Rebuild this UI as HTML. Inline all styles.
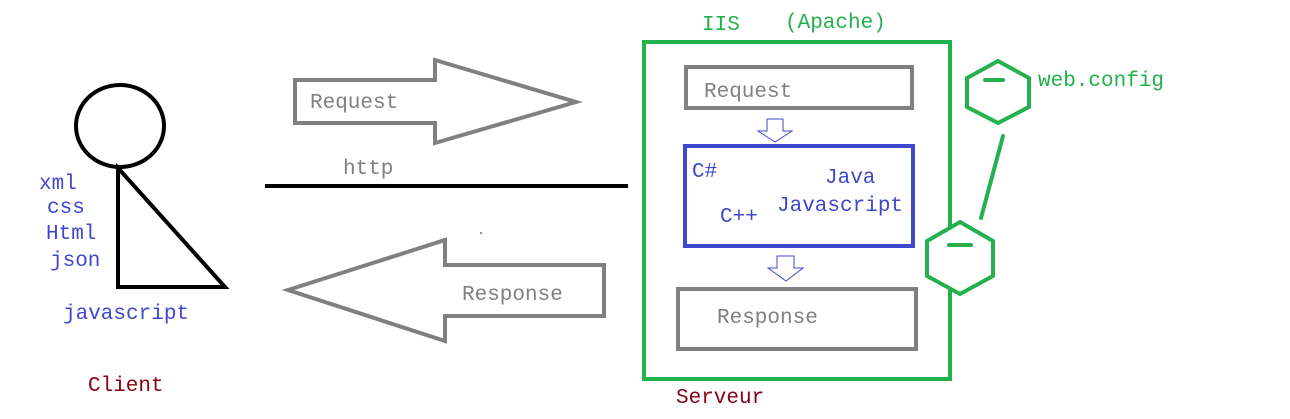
<!DOCTYPE html>
<html><head><meta charset="utf-8"><style>
html,body{margin:0;padding:0;background:#fff;width:1290px;height:419px;overflow:hidden}
text{font-family:"Liberation Mono",monospace;font-size:21px}
</style></head><body>
<svg width="1290" height="419" viewBox="0 0 1290 419" xmlns="http://www.w3.org/2000/svg">
<g fill="none" stroke="#000" stroke-width="4">
<ellipse cx="120" cy="126" rx="44" ry="41"/>
<path d="M118 168 L118 287 L225 287 Z" stroke-linejoin="miter"/>
<line x1="265" y1="186" x2="628" y2="186" stroke-width="4"/>
</g>
<g fill="none" stroke="#808080" stroke-width="4">
<polygon points="295,80 435,80 435,60 576,102 435,143 435,123 295,123"/>
<polygon points="288,290 445,240 445,265 604,265 604,316 445,316 445,341"/>
<rect x="686" y="67" width="226" height="41"/>
<rect x="678" y="289" width="238" height="60"/>
</g>
<g fill="#808080">
<text x="310" y="108">Request</text>
<text x="343" y="174">http</text>
<text x="462" y="300">Response</text>
<text x="704" y="97">Request</text>
<text x="717" y="323">Response</text>
</g>
<rect x="644" y="42" width="306" height="337" fill="none" stroke="#22b14c" stroke-width="4"/>
<rect x="685" y="146" width="228" height="100" fill="none" stroke="#3f48cc" stroke-width="4"/>
<g fill="none" stroke="#3f48cc" stroke-width="1">
<polygon points="767,119 783,119 783,131 792,131 775,142 758,131 767,131"/>
<polygon points="777,256 794,256 794,268 803,268 786,281 768,268 777,268"/>
</g>
<g fill="#22b14c">
<text x="702" y="30">IIS</text>
<text x="785" y="28">(Apache)</text>
<text x="1038" y="86">web.config</text>
</g>
<g fill="#fff" stroke="#22b14c" stroke-width="4">
<polygon points="998,61 1029,78 1029,107 998,123 967,107 967,78"/>
<polygon points="960,222 993,241 993,276 960,294 927,276 927,241"/>
</g>
<g stroke="#22b14c" stroke-width="4" stroke-linecap="round">
<line x1="985" y1="80" x2="1003" y2="80"/>
<line x1="949" y1="245" x2="971" y2="245"/>
<line x1="1003" y1="136" x2="981" y2="218"/>
</g>
<g fill="#3f48cc">
<text x="39" y="189">xml</text>
<text x="47" y="213">css</text>
<text x="46" y="239">Html</text>
<text x="50" y="266">json</text>
<text x="63" y="319">javascript</text>
<text x="692" y="177">C#</text>
<text x="825" y="183">Java</text>
<text x="777" y="211">Javascript</text>
<text x="720" y="222">C++</text>
</g>
<g fill="#880015">
<text x="88" y="391">Client</text>
<text x="676" y="403">Serveur</text>
</g>
<circle cx="481" cy="233" r="0.8" fill="#000"/>
</svg>
</body></html>
